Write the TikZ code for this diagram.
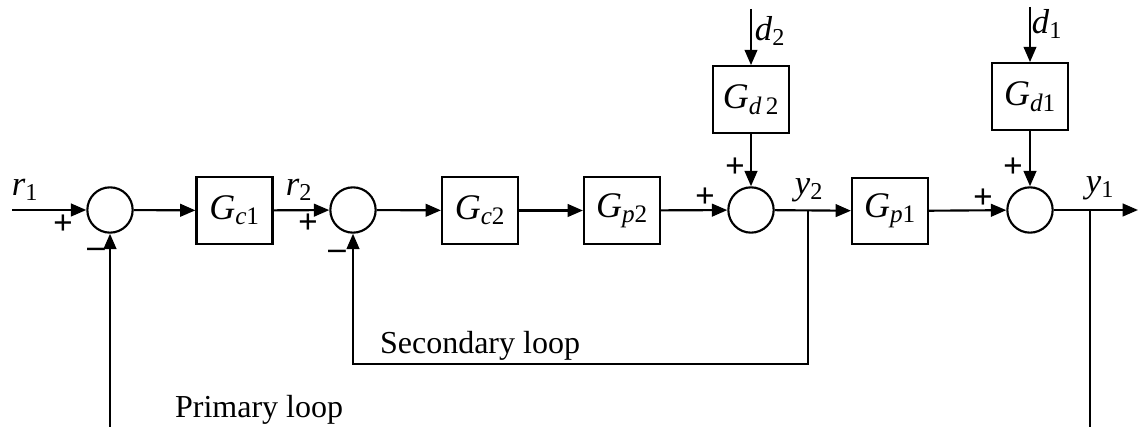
\documentclass[tikz,border=0pt]{standalone}
\usepackage{fontspec}
\setmainfont{Liberation Serif}
\usetikzlibrary{arrows.meta}

\newcommand{\sig}[2]{\textit{#1}\textsubscript{#2}}
\newcommand{\tf}[2]{\textit{G}\textsubscript{#2}}

\tikzset{every picture/.style={line width=1.6pt}}
\tikzset{
  block/.style={draw, rectangle, minimum width=57pt, minimum height=50pt, inner sep=0pt, font=\fontsize{27}{30}\selectfont},
  sumnode/.style={draw, circle, minimum size=34pt, inner sep=0pt},
  sigline/.style={-{Triangle[length=11.5pt,width=9.5pt]}},
  lbl/.style={inner sep=0.75pt, font=\fontsize{26}{30}\selectfont},
  txt/.style={inner sep=0.75pt, font=\fontsize{24}{28}\selectfont},
  sgn/.style={inner sep=0pt, font=\fontsize{26}{28}\selectfont\bfseries},
}

\begin{document}
\begin{tikzpicture}[x=0.75pt,y=0.75pt,yscale=-1,xscale=1]
    \useasboundingbox (0,0) rectangle (1139,427);

    % Blocks
    \node [sumnode] (sum1) at (110,210) {};
    \node [block] (gc1) at (234.5,210.5) {\tf{G}{\textit{c}1}};
    \node [sumnode] (sum2) at (353,210) {};
    \node [block] (gc2) at (480,210.5) {\tf{G}{\textit{c}2}};
    \node [block] (gp2) at (622,210.5) {\tf{G}{\textit{p}2}};
    \node [sumnode] (sum3) at (751,210) {};
    \node [block] (gd2) at (751,99.5) {\tf{G}{\textit{d}\,2}};
    \node [block] (gp1) at (890,211) {\tf{G}{\textit{p}1}};
    \node [sumnode] (sum4) at (1030,210) {};
    \node [block] (gd1) at (1030,96.5) {\tf{G}{\textit{d}1}};

    % Free ends and branch points
    \coordinate (in1) at (12,210);
    \coordinate (out1) at (1138,210);
    \coordinate (d2in) at (751,9);
    \coordinate (d1in) at (1030,7);
    \coordinate (br2) at (808,210);
    \coordinate (br1) at (1090,210);
    \coordinate (sec) at (808,364);
    \coordinate (prim1) at (110,430);
    \coordinate (prim2) at (1090,430);

    % Forward path
    \draw [sigline] (in1) -- (sum1);
    \draw [sigline] (sum1) -- (gc1);
    \draw [sigline] (gc1) -- (sum2);
    \draw [sigline] (sum2) -- (gc2);
    \draw [sigline] (gc2) -- (gp2);
    \draw [sigline] (gp2) -- (sum3);
    \draw [sigline] (sum3) -- (gp1);
    \draw [sigline] (gp1) -- (sum4);
    \draw [sigline] (sum4) -- (out1);

    % Disturbances
    \draw [sigline] (d2in) -- (gd2);
    \draw [sigline] (gd2) -- (sum3);
    \draw [sigline] (d1in) -- (gd1);
    \draw [sigline] (gd1) -- (sum4);

    % Feedback loops
    \draw [sigline] (br2) -- (sec) -| (sum2);
    \draw [sigline] (prim1) -- (sum1);
    \draw (br1) -- (prim2);

    % Signal labels
    \node [lbl] (r1) at (25,190) {\sig{r}{1}};
    \node [lbl] (r2) at (299,190) {\sig{r}{2}};
    \node [lbl] (y2) at (809,190) {\sig{y}{2}};
    \node [lbl] (y1) at (1100,188) {\sig{y}{1}};
    \node [lbl] (d2) at (770,31) {\sig{d}{2}};
    \node [lbl] (d1) at (1047,24) {\sig{d}{1}};

    % Signs
    \node [sgn] (p1) at (63,225) {+};
    \node [sgn] (m1) at (96,253) {--};
    \node [sgn] (p2) at (308,224) {+};
    \node [sgn] (m2) at (337,255) {--};
    \node [sgn] (p3) at (705,198) {+};
    \node [sgn] (p4) at (735,168) {+};
    \node [sgn] (p5) at (983,199) {+};
    \node [sgn] (p6) at (1013,168) {+};

    % Loop names
    \node [txt, anchor=west] (secname) at (378,346) {Secondary loop};
    \node [txt, anchor=west] (primname) at (173,410) {Primary loop};
\end{tikzpicture}
\end{document}
